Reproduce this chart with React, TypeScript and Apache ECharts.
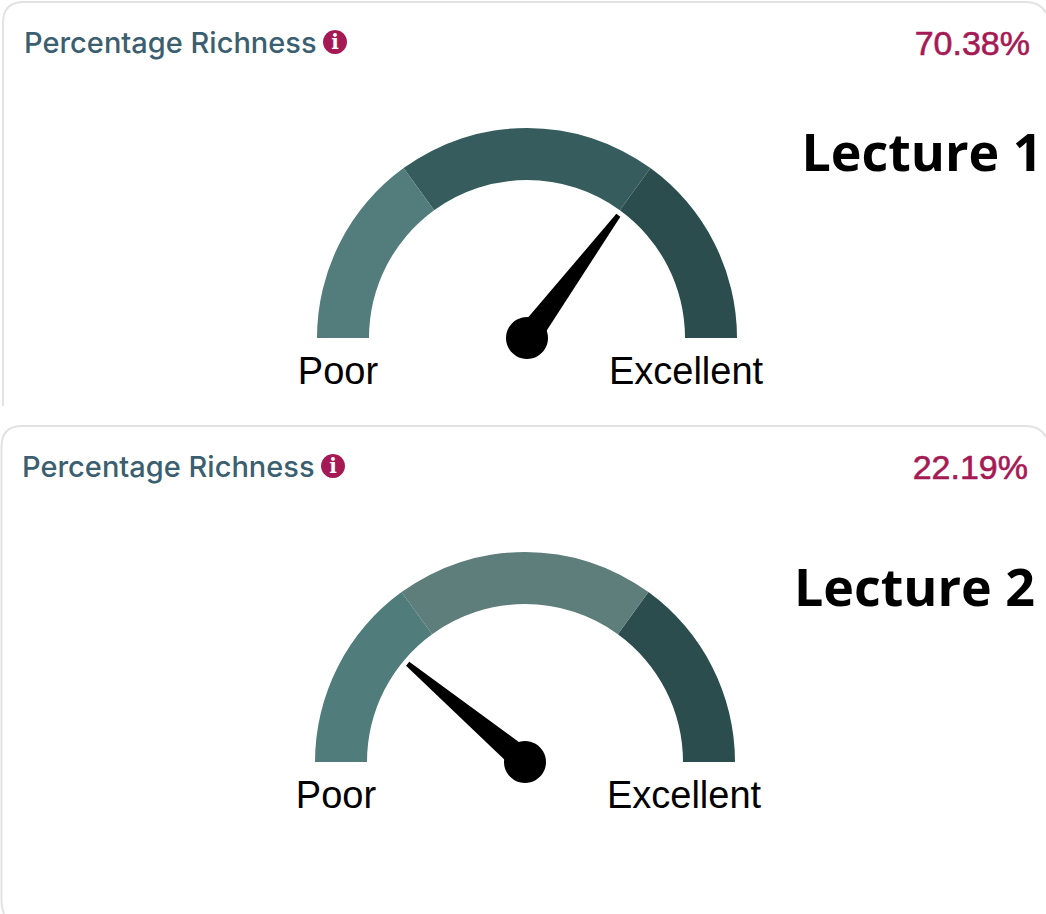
import React, { useEffect, useRef } from "react";
import * as echarts from "echarts";

const lectureNames = ["Lecture 1", "Lecture 2"];
const richnessValues = [70.38, 22.19];
const bandStops = [0.3, 0.7, 1];
const lectureOneBands = ["#527d7c", "#365c5e", "#2b4d4e"];
const lectureTwoBands = ["#517c7c", "#5e7e7c", "#2b4d4e"];
const scaleEndLabels = ["Poor", "Excellent"];
const cardTitle = "Percentage Richness";

const needleIcon = "path://M10 0 L15 0 L25 153 L0 153 Z";

const cardPath1 = "M3 406 L3 23 Q3 2 24 2 L1026 2 Q1040 2 1046 13";
const cardPath2 = "M4 914 Q1.5 908 1.5 898 L1.5 447 Q1.5 426 22 426 L1026 426 Q1040 426 1046 437";

function gauge(center: number[], value: number, colors: string[]) {
  return {
    type: "gauge",
    center,
    radius: 210,
    startAngle: 180,
    endAngle: 0,
    min: 0,
    max: 100,
    silent: true,
    axisLine: {
      roundCap: false,
      lineStyle: { width: 52, color: bandStops.map((s, i) => [s, colors[i]]) },
    },
    axisTick: { show: false },
    splitLine: { show: false },
    axisLabel: { show: false },
    pointer: {
      icon: needleIcon,
      length: 153,
      width: 25,
      offsetCenter: [0, 0],
      itemStyle: { color: "#000" },
    },
    anchor: { show: true, showAbove: true, size: 42, itemStyle: { color: "#000" } },
    title: { show: false },
    detail: { show: false },
    data: [{ value }],
  };
}

function cardTexts(dx: number, dy: number, value: number, lecture: string, lx: number, ly: number) {
  const gx = 527 + dx;
  const gy = 337 + dy;
  return [
    { type: "text", x: 24 + dx, y: 42 + dy, style: { text: cardTitle, font: '500 29px Inter, "Noto Sans", sans-serif', fill: "#3b5f70", verticalAlign: "middle" } },
    { type: "circle", shape: { cx: 335 + dx, cy: 42 + dy, r: 12 }, style: { fill: "#a51a55" } },
    { type: "text", x: 335 + dx, y: 42 + dy, style: { text: "i", font: 'bold 20px "DejaVu Serif", serif', fill: "#fff", align: "center", verticalAlign: "middle" } },
    { type: "text", x: 1030 + dx, y: 43 + dy, style: { text: value.toFixed(2) + "%", font: '34px "Liberation Sans", sans-serif', fill: "#a51a55", stroke: "#a51a55", lineWidth: 0.6, align: "right", verticalAlign: "middle" } },
    { type: "text", x: gx - 189, y: gy + 34, style: { text: scaleEndLabels[0], font: '38px "Liberation Sans", sans-serif', fill: "#000", align: "center", verticalAlign: "middle" } },
    { type: "text", x: gx + 159, y: gy + 34, style: { text: scaleEndLabels[1], font: '38px "Liberation Sans", sans-serif', fill: "#000", align: "center", verticalAlign: "middle" } },
    { type: "text", x: lx, y: ly, style: { text: lecture, font: 'bold 52px "Open Sans", sans-serif', fill: "#000", align: "center", verticalAlign: "middle" } },
  ];
}

echarts.graphic.registerShape("card1", echarts.graphic.extendPath(cardPath1 as any, {}) as any);
echarts.graphic.registerShape("card2", echarts.graphic.extendPath(cardPath2 as any, {}) as any);

export default function App() {
  const ref = useRef<HTMLDivElement>(null);
  useEffect(() => {
    const chart = echarts.init(ref.current!, undefined, { renderer: "svg" });
    chart.setOption({
      animation: false,
      backgroundColor: "#fff",
      graphic: {
        elements: [
          { type: "card1", x: 0, y: 0, scaleX: 1, scaleY: 1, style: { fill: "none", stroke: "#e2e2e2", lineWidth: 2 } },
          { type: "card2", x: 0, y: 0, scaleX: 1, scaleY: 1, style: { fill: "none", stroke: "#e2e2e2", lineWidth: 2 } },
          ...cardTexts(0, 0, richnessValues[0], lectureNames[0], 922, 150),
          ...cardTexts(-2, 424, richnessValues[1], lectureNames[1], 914.5, 585),
        ],
      },
      series: [
        gauge([527, 338], richnessValues[0], lectureOneBands),
        gauge([525, 762], richnessValues[1], lectureTwoBands),
      ],
    });
    return () => chart.dispose();
  }, []);
  return <div ref={ref} style={{ position: "absolute", left: 0, top: 0, width: 1046, height: 914 }} />;
}
